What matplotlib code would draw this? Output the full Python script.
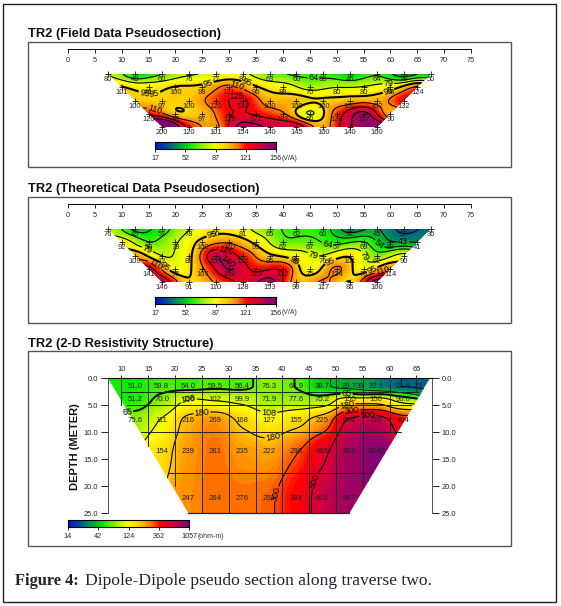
import numpy as np
import matplotlib
matplotlib.use("Agg")
import matplotlib.pyplot as plt
from matplotlib.colors import LinearSegmentedColormap
from matplotlib.patches import Polygon, Rectangle

W, H = 561, 606

# Field data pseudosection, rows start at x = 7.5, 10, 12.5 ...
field_row1 = [80, 43, 60, 76, 77, 80, 63, 60, 60, 46, 64, 28, 50]
field_row2 = [101, 91, 100, 98, 121, 96, 88, 70, 80, 80, 88, 124]
field_row3 = [100, 97, 100, 120, 134, 100, 109, 100, 100, 102, 132]
field_row4 = [120, 88, 97, 125, 121, 112, 60, 120, 157, 90]
field_row5 = [200, 120, 101, 154, 140, 145, 100, 140, 160]

# Theoretical data pseudosection
theory_row1 = [76, 45, 57, 78, 90, 81, 65, 62, 60, 32, 45, 27, 36]
theory_row2 = [92, 59, 78, 100, 110, 93, 62, 67, 57, 69, 39, 41]
theory_row3 = [109, 72, 88, 150, 122, 95, 88, 76, 101, 62, 90]
theory_row4 = [141, 75, 107, 150, 119, 132, 75, 124, 76, 114]
theory_row5 = [146, 91, 110, 128, 153, 98, 117, 86, 160]

# 2-D resistivity blocks
res_x1 = [12.5, 17.5, 22.5, 27.5, 32.5, 37.5, 42.5, 47.5, 52.5, 54.5, 57.5, 62.5, 65.3]
res_v1 = ["51.0", "59.8", "54.0", "59.5", "56.4", "76.3", "64.9", "38.7", "29.7", "39", "22.1", "21.6", "23"]
res_x2 = [12.5, 17.5, 22.5, 27.5, 32.5, 37.5, 42.5, 47.5, 52.5, 57.5, 62.5]
res_v2 = ["51.2", "70.0", "116", "102", "99.9", "71.9", "77.6", "75.2", "155", "150", "90.0"]
res_x3 = [12.5, 17.5, 22.5, 27.5, 32.5, 37.5, 42.5, 47.5, 52.5, 57.5, 62.5]
res_v3 = ["75.6", "111", "216", "269", "168", "127", "155", "225", "604", "726", "404"]
res_x4 = [17.5, 22.5, 27.5, 32.5, 37.5, 42.5, 47.5, 52.5, 57.5]
res_v4 = ["154", "239", "281", "235", "222", "298", "466", "824", "1040"]
res_x5 = [22.5, 27.5, 32.5, 37.5, 42.5, 47.5, 52.5]
res_v5 = ["247", "284", "276", "292", "384", "612", "847"]
res_depths = [1.5, 4.0, 7.8, 13.6, 22.2]

# mesh lines of the resistivity section
grid_x = [10, 15, 20, 25, 30, 35, 40, 45, 50, 55, 60, 65]
grid_x_end = [5, 12.5, 20, 25, 25, 25, 25, 25, 25, 20, 10, 2.5]
grid_y = [2.5, 5, 10, 17.5]
grid_y_start = [10, 11, 13.7, 18.8]
grid_y_end = [65.3, 64, 62.2, 56.3]

field_levels = [34, 49, 64, 79, 95, 110, 125, 140]
theory_levels = [33, 43, 54, 64, 79, 95, 110, 126, 140]
res_levels = [24, 39, 65, 108, 180, 300, 500]

# where the contour labels sit
field_label_at = [(45.7, 1.4), (14.3, 2.3), (16.2, 2.8), (16.2, 3.6), (26.1, 1.8), (31.4, 1.9),
                  (31.4, 2.6), (33.2, 1.8), (59.6, 1.7), (59.6, 2.2)]
theory_label_at = [(27, 1.7), (29.5, 2.4), (30.1, 3.3), (42.2, 3.3), (18.4, 3.7), (16.4, 3.6),
                   (15, 2.3), (62.4, 1.7), (57.8, 2.2), (48.4, 2), (55.9, 2.9), (56.5, 4),
                   (58.4, 4), (45.3, 3.3), (49, 3.6)]
res_label_at = [(11, 4.5), (52, 2.5), (22.5, 4), (37.5, 5.7), (25, 6.3), (38, 9.7), (52, 4.5),
                (53, 6), (37.5, 21), (56, 8), (44.5, 18.5)]

pseudo_ticks = [17, 52, 87, 121, 156]
res_ticks = [14, 42, 124, 362, 1057]

cmap = LinearSegmentedColormap.from_list("res", [
    (0.0, "#0a14c8"), (0.08, "#0040a8"), (0.15, "#007a70"), (0.22, "#00b030"),
    (0.3, "#10ee00"), (0.4, "#a0f000"), (0.5, "#ffff00"), (0.6, "#ffc800"),
    (0.68, "#ff8000"), (0.76, "#ff0000"), (0.86, "#d00040"), (1.0, "#800078")])

serif = ["Liberation Serif", "DejaVu Serif"]
sans = ["Liberation Sans", "DejaVu Sans"]
plt.rcParams["font.family"] = sans


# gaussian weighted surface through the stations, fills the contour field
def surface(x, y, v, X, Y, sx, sy):
    x, y, v = np.asarray(x, float), np.asarray(y, float), np.asarray(v, float)
    w = np.exp(-0.5 * ((X[..., None] - x) / sx) ** 2 - 0.5 * ((Y[..., None] - y) / sy) ** 2)
    return (w @ v) / w.sum(axis=-1)


def axes_px(left, top, right, bottom):
    return fig.add_axes([left / W, 1 - bottom / H, (right - left) / W, (bottom - top) / H])


def colorbar(left, top, ticks, unit):
    right = left + 121
    ax = axes_px(left, top, right, top + 7)
    ax.imshow(np.linspace(0, 1, 256)[None, :], cmap=cmap, aspect="auto", extent=[0, 1, 0, 1])
    ax.set_yticks([])
    ax.set_xticks(np.linspace(0, 1, len(ticks)))
    ax.set_xticklabels([str(t) for t in ticks], fontsize=5.2, color="#222222")
    ax.tick_params(axis="x", length=2, width=0.6, pad=2)
    for s in ax.spines.values():
        s.set_linewidth(0.8)
    bg.text(right + 6 + (3 if ticks[-1] > 999 else 0), top + 16, unit, fontsize=5, color="#333333", va="center")


def pseudosection(ruler_px, row1_px, rows, levels, label_at, cbar_top):
    px_per_row = 13.25
    to_row = lambda p: 1 + (p - row1_px) / px_per_row
    ax = axes_px(68, ruler_px, 471, row1_px + 62)
    ax.set_xlim(0, 75)
    ax.set_ylim(to_row(row1_px + 62), to_row(ruler_px))
    ax.patch.set_visible(False)
    for k in ["left", "right", "bottom"]:
        ax.spines[k].set_visible(False)
    ax.spines["top"].set_linewidth(0.7)
    ax.set_yticks([])
    ax.set_xticks(np.arange(0, 76, 5))
    ax.tick_params(axis="x", direction="in", top=True, bottom=False, labeltop=True,
                   labelbottom=False, length=3, width=0.6, pad=-11, labelsize=5.2, labelcolor="#222222")

    xs, ys, vs = [], [], []
    for r, row in enumerate(rows):
        for i, v in enumerate(row):
            xs.append(7.5 + 2.5 * r + 5 * i)
            ys.append(r + 1)
            vs.append(v)

    X, Y = np.meshgrid(np.linspace(7, 68, 500), np.linspace(1, 5, 130))
    Z = surface(xs, ys, vs, X, Y, 2.3, 0.5)
    Z = np.clip(Z, 17, 156)
    edge = 7.5 + 2.5 * (Y - 1)
    Z = np.ma.masked_where((X < edge - 0.3) | (X > 75 - edge + 0.3), Z)

    clip = [(7.5, 1), (67.5, 1), (57.5, 5), (17.5, 5)]
    cf = ax.contourf(X, Y, Z, levels=np.linspace(17, 156, 70), cmap=cmap, vmin=17, vmax=156)
    cf.set_clip_path(Polygon(clip, transform=ax.transData))
    widths = [1.5 if l == 95 else 0.8 for l in levels]
    cs = ax.contour(X, Y, Z, levels=levels, colors="black", linewidths=widths)
    cs.set_clip_path(Polygon(clip, transform=ax.transData))
    ax.clabel(cs, fmt="%d", fontsize=6.5, inline=True, inline_spacing=1, manual=label_at)

    ax.plot(xs, ys, "+", color="#111111", ms=5, mew=0.6, clip_on=False)
    for x, y, v in zip(xs, ys, vs):
        ax.text(x, y + 0.42, str(v), fontsize=5.4, color="#222222", ha="center", va="center")

    colorbar(155, cbar_top, pseudo_ticks, "(V/A)")


fig = plt.figure(figsize=(W / 100, H / 100), dpi=100, facecolor="white")
bg = fig.add_axes([0, 0, 1, 1])
bg.set_xlim(0, W)
bg.set_ylim(H, 0)
bg.axis("off")

# page frame and the three panel boxes
bg.add_patch(Rectangle((3, 4), 553, 598, fill=False, ec="#222222", lw=1.0))
for top, bottom in [(42, 167), (197, 323), (351, 546)]:
    bg.add_patch(Rectangle((28, top), 483, bottom - top, fill=False, ec="#555555", lw=1.0))

for y, title in [(34, "TR2 (Field Data Pseudosection)"),
                 (189, "TR2 (Theoretical Data Pseudosection)"),
                 (344, "TR2 (2-D Resistivity Structure)")]:
    bg.text(28, y, title, fontsize=9.3, fontweight="bold", color="#111111", va="center")

pseudosection(49, 74, [field_row1, field_row2, field_row3, field_row4, field_row5],
              field_levels, field_label_at, 142)
pseudosection(204, 229, [theory_row1, theory_row2, theory_row3, theory_row4, theory_row5],
              theory_levels, theory_label_at, 297)

# resistivity section
ax = axes_px(108, 378.3, 432, 513.3)
ax.set_xlim(7.5, 67.9)
ax.set_ylim(25, 0)
ax.patch.set_visible(False)
ax.spines["bottom"].set_visible(False)
ax.spines["left"].set_color("#555555")
ax.spines["right"].set_color("#555555")
ax.spines["left"].set_linewidth(0.7)
ax.spines["right"].set_linewidth(0.7)
ax.set_xticks(grid_x)
ax.tick_params(axis="x", top=True, bottom=False, labeltop=True, labelbottom=False,
               length=2, width=0.6, pad=2, labelsize=5.4, labelcolor="#222222")
ax.set_yticks(np.arange(0, 26, 5))
ax.set_yticklabels([f"{d:.1f}" for d in np.arange(0, 26, 5)])
ax.tick_params(axis="y", left=True, right=True, labelright=True, length=5, width=0.6,
               pad=2, labelsize=5.4, labelcolor="#222222")

res_x = [res_x1, res_x2, res_x3, res_x4, res_x5]
res_v = [res_v1, res_v2, res_v3, res_v4, res_v5]
xs, ys, vs = [], [], []
for r, (row_x, row_v) in enumerate(zip(res_x, res_v)):
    for x, v in zip(row_x, row_v):
        xs.append(x)
        ys.append(r)
        vs.append(np.log10(float(v)))

X, Y = np.meshgrid(np.linspace(7, 68, 500), np.linspace(0, 25, 220))
Z = surface(xs, ys, vs, X, np.interp(Y, res_depths, range(5)), 2.2, 0.45)
Z = np.clip(Z, np.log10(14), np.log10(1057))
edge = 7.5 + 15 * Y / 25
Z = np.ma.masked_where((X < edge - 0.3) | (X > 75 - edge + 0.3), Z)
clip = [(7.5, 0), (67.5, 0), (52.5, 25), (22.5, 25)]
cf = ax.contourf(X, Y, Z, levels=np.linspace(np.log10(14), np.log10(1057), 70), cmap=cmap)
cf.set_clip_path(Polygon(clip, transform=ax.transData))
lev = np.log10(res_levels)
cs = ax.contour(X, Y, Z, levels=lev, colors="black",
                linewidths=[0.6, 0.6, 1.4, 0.8, 0.8, 0.8, 0.8])
cs.set_clip_path(Polygon(clip, transform=ax.transData))
ax.clabel(cs, fmt={l: str(v) for l, v in zip(lev, res_levels)},
          fontsize=6.5, inline=True, inline_spacing=1, manual=res_label_at)

for x, end in zip(grid_x, grid_x_end):
    ax.plot([x, x], [0, end], color="#222222", lw=0.7)
for y, a, b in zip(grid_y, grid_y_start, grid_y_end):
    ax.plot([a, b], [y, y], color="#222222", lw=0.7)
ax.plot([22.5, 52.5], [25, 25], color="#222222", lw=0.9, clip_on=False)

for d, row_x, row_v in zip(res_depths, res_x, res_v):
    for x, v in zip(row_x, row_v):
        ax.text(x, d, v, fontsize=5.6, color="#222222", ha="center", va="center")

bg.text(75, 447, "DEPTH (METER)", fontsize=8, fontweight="bold", rotation=90,
        ha="center", va="center", color="#111111")
colorbar(68, 520, res_ticks, "(ohm-m)")

# caption
bg.text(15, 581, "Figure 4:", family=serif, fontsize=11.8, fontweight="bold", color="#222222", va="center")
bg.text(85, 581, "Dipole-Dipole pseudo section along traverse two.", family=serif, fontsize=12.6,
        color="#222233", va="center")

fig.savefig("out.png", dpi=100)
